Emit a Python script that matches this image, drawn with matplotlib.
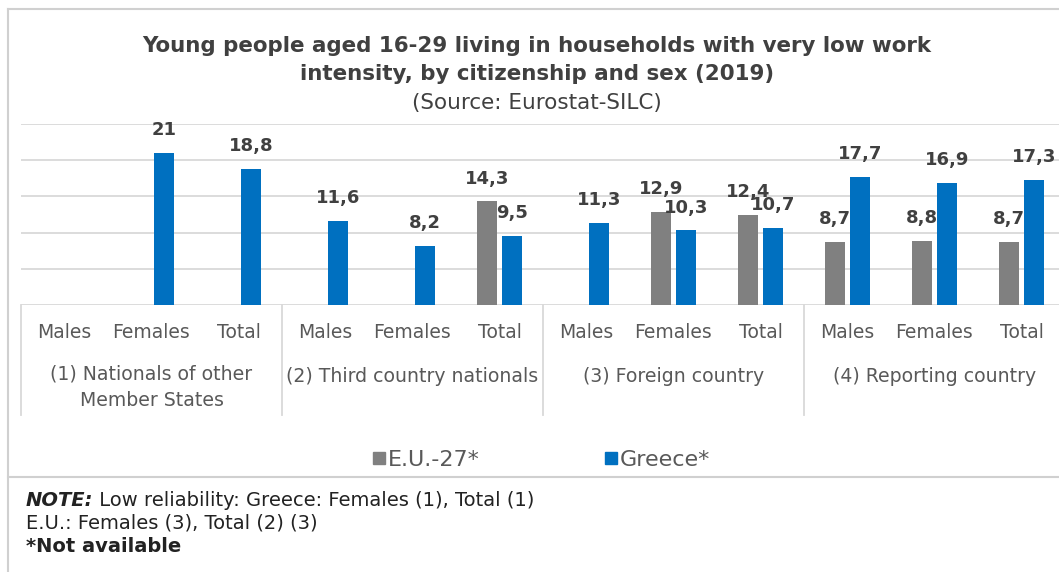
import numpy as np
import matplotlib
matplotlib.use('Agg')
import matplotlib.pyplot as plt
from matplotlib.lines import Line2D

# chart values (None = not available)
subCats = ['Males', 'Females', 'Total'] * 4
groups = ['(1) Nationals of other\nMember States', '(2) Third country nationals',
          '(3) Foreign country', '(4) Reporting country']
euVals = [None, None, None, None, None, 14.3, None, 12.9, 12.4, 8.7, 8.8, 8.7]
grVals = [None, 21, 18.8, 11.6, 8.2, 9.5, 11.3, 10.3, 10.7, 17.7, 16.9, 17.3]
seriesNames = ['E.U.-27*', 'Greece*']
colors = ['#808080', '#0070C0']


def fmt(v):
    return ('%g' % v).replace('.', ',')


W, H = 1059, 572
fig = plt.figure(figsize=(W / 100, H / 100), dpi=100)
plt.rcParams['font.family'] = 'DejaVu Sans'

# plot area in pixels: left 21, top 124, bottom 305, width 12 cats of ~87 px
left, top, bottom = 21, 124, 305
plotW = 1044
ax = fig.add_axes([left / W, 1 - bottom / H, plotW / W, (bottom - top) / H])

x = np.arange(len(subCats))
barW = 0.22
off = 0.143
for vals, col, sgn in [(euVals, colors[0], -1), (grVals, colors[1], 1)]:
    xs = [x[i] + sgn * off for i in range(len(vals)) if vals[i] is not None]
    hs = [v for v in vals if v is not None]
    bars = ax.bar(xs, hs, width=barW, color=col, zorder=3)
    for b, v in zip(bars, hs):
        ax.annotate(fmt(v), (b.get_x() + b.get_width() / 2, v), xytext=(0, 10),
                    textcoords='offset points', ha='center', va='bottom',
                    fontsize=13, fontweight='bold', color='#404040', zorder=4)

ax.set_xlim(-0.5, len(subCats) - 0.5)
ax.set_ylim(0, 25)
ax.set_yticks(np.arange(0, 26, 5))
ax.yaxis.grid(True, color='#D9D9D9', lw=1.3, zorder=0)
ax.tick_params(axis='y', left=False, labelleft=False)
for s in ax.spines.values():
    s.set_visible(False)

ax.set_xticks(x)
ax.set_xticklabels(subCats, fontsize=13.5, color='#595959')
ax.tick_params(axis='x', length=0, pad=13)

# group separators and group labels
ph = bottom - top
sepLen = (415 - bottom) / ph
trans = ax.get_xaxis_transform()
for g in range(len(groups) + 1):
    ax.plot([g * 3 - 0.5] * 2, [0, -sepLen], transform=trans, color='#D9D9D9',
            lw=1.3, clip_on=False)
for g, name in enumerate(groups):
    if '\n' in name:
        ax.text(g * 3 + 1, -(364 - bottom) / ph, name, transform=trans,
                ha='center', va='top', fontsize=13.6, color='#595959',
                linespacing=1.5)
    else:
        ax.text(g * 3 + 1, -(376 - bottom) / ph, name, transform=trans,
                ha='center', va='center', fontsize=13.6, color='#595959')

# title
fig.text(537 / W, 1 - 60 / H,
         'Young people aged 16-29 living in households with very low work\n'
         'intensity, by citizenship and sex (2019)',
         ha='center', va='center', fontsize=15.4, fontweight='bold',
         color='#404040', linespacing=1.5)
fig.text(537 / W, 1 - 103 / H, '(Source: Eurostat-SILC)', ha='center',
         va='center', fontsize=15.5, color='#404040')

# legend
handles = [Line2D([], [], marker='s', ls='none', color=c, markersize=9)
           for c in colors]
fig.legend(handles, seriesNames, loc='center', bbox_to_anchor=(541 / W, 1 - 460 / H),
           ncol=2, frameon=False, fontsize=16, labelcolor='#595959',
           handlelength=0.6, handletextpad=0.1, columnspacing=5.6)

# frame lines
lc = '#D0D0D0'
fig.add_artist(Line2D([8 / W, 8 / W], [0, 1 - 9 / H], color=lc, lw=1.5))
fig.add_artist(Line2D([8 / W, 1], [1 - 9 / H, 1 - 9 / H], color=lc, lw=1.5))
fig.add_artist(Line2D([8 / W, 1], [1 - 477 / H, 1 - 477 / H], color=lc, lw=1.5))

# note
noteC = '#222222'
t1 = fig.text(26 / W, 1 - 500 / H, 'NOTE:', fontsize=14, fontweight='bold',
              fontstyle='italic', color=noteC, va='center')
ax.annotate(' Low reliability: Greece: Females (1), Total (1)', xy=(1, 0.5),
            xycoords=t1, va='center', ha='left', fontsize=14, color=noteC,
            annotation_clip=False)
fig.text(26 / W, 1 - 523 / H, 'E.U.: Females (3), Total (2) (3)', fontsize=14,
         color=noteC, va='center')
fig.text(26 / W, 1 - 547 / H, '*Not available', fontsize=14, fontweight='bold',
         color=noteC, va='center')

fig.savefig('out.png', dpi=100)
